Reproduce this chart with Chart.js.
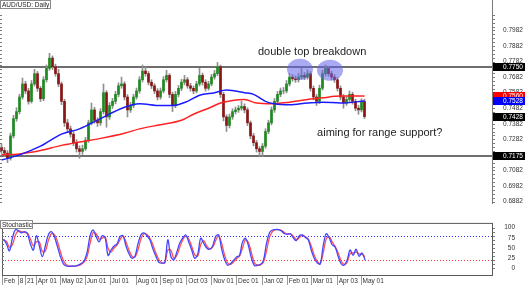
<!DOCTYPE html>
<html>
<head>
<meta charset="utf-8">
<script src="https://cdn.jsdelivr.net/npm/chart.js@4.4.1/dist/chart.umd.min.js"></script>
<style>
  html, body { margin: 0; padding: 0; background: #fff; }
  #wrap { position: relative; width: 525px; height: 285px; overflow: hidden; }
  canvas { position: absolute; left: 0; }
  #price { top: 0; }
  #stoch { top: 219px; }
</style>
</head>
<body>
<div id="wrap">
  <canvas id="price" width="525" height="219"></canvas>
  <canvas id="stoch" width="525" height="66"></canvas>
</div>
<script>
// AUD/USD daily, squeezed to one candle per ~3 sessions
const opens = [
  0.7230,0.7210,0.7193,0.7160,0.7304,0.7415,0.7460,0.7554,0.7638,0.7593,
  0.7526,0.7638,0.7704,0.7610,0.7543,0.7665,0.7738,0.7804,0.7749,0.7704,
  0.7638,0.7526,0.7388,0.7349,0.7315,0.7260,0.7221,0.7204,0.7221,0.7276,
  0.7388,0.7471,0.7404,0.7388,0.7460,0.7582,0.7426,0.7499,0.7526,0.7571,
  0.7626,0.7638,0.7554,0.7471,0.7499,0.7554,0.7593,0.7665,0.7721,0.7704,
  0.7649,0.7626,0.7593,0.7554,0.7593,0.7665,0.7693,0.7571,0.7499,0.7571,
  0.7610,0.7649,0.7665,0.7626,0.7610,0.7593,0.7638,0.7693,0.7649,0.7610,
  0.7638,0.7682,0.7704,0.7749,0.7571,0.7426,0.7371,0.7426,0.7460,0.7471,
  0.7482,0.7493,0.7471,0.7388,0.7304,0.7260,0.7221,0.7204,0.7238,0.7332,
  0.7388,0.7471,0.7526,0.7571,0.7593,0.7593,0.7638,0.7682,0.7671,0.7665,
  0.7682,0.7693,0.7682,0.7704,0.7610,0.7554,0.7526,0.7610,0.7704,0.7738,
  0.7704,0.7682,0.7665,0.7610,0.7554,0.7515,0.7538,0.7571,0.7526,0.7482,
  0.7471,0.7526
];
const highs = [
  0.7252,0.7228,0.7210,0.7322,0.7436,0.7485,0.7572,0.7676,0.7655,0.7610,
  0.7660,0.7732,0.7718,0.7622,0.7685,0.7760,0.7835,0.7818,0.7765,0.7732,
  0.7650,0.7540,0.7410,0.7368,0.7330,0.7280,0.7240,0.7245,0.7295,0.7405,
  0.7515,0.7488,0.7420,0.7480,0.7638,0.7595,0.7518,0.7545,0.7590,0.7645,
  0.7682,0.7652,0.7570,0.7520,0.7572,0.7612,0.7685,0.7760,0.7749,0.7718,
  0.7665,0.7640,0.7608,0.7612,0.7685,0.7726,0.7705,0.7585,0.7590,0.7628,
  0.7668,0.7693,0.7680,0.7642,0.7625,0.7655,0.7738,0.7708,0.7665,0.7655,
  0.7700,0.7725,0.7776,0.7760,0.7585,0.7440,0.7445,0.7478,0.7490,0.7500,
  0.7526,0.7510,0.7485,0.7400,0.7320,0.7275,0.7235,0.7255,0.7350,0.7405,
  0.7490,0.7545,0.7590,0.7612,0.7615,0.7660,0.7705,0.7698,0.7690,0.7705,
  0.7738,0.7712,0.7730,0.7718,0.7625,0.7570,0.7630,0.7725,0.7760,0.7750,
  0.7720,0.7698,0.7680,0.7625,0.7570,0.7555,0.7593,0.7585,0.7540,0.7500,
  0.7543,0.7540
];
const lows = [
  0.7190,0.7172,0.7132,0.7148,0.7290,0.7398,0.7445,0.7540,0.7575,0.7508,
  0.7515,0.7625,0.7590,0.7525,0.7530,0.7650,0.7725,0.7730,0.7688,0.7620,
  0.7505,0.7365,0.7330,0.7295,0.7240,0.7200,0.7160,0.7185,0.7210,0.7262,
  0.7375,0.7385,0.7365,0.7372,0.7445,0.7360,0.7410,0.7480,0.7510,0.7555,
  0.7610,0.7535,0.7426,0.7455,0.7485,0.7540,0.7578,0.7650,0.7688,0.7632,
  0.7608,0.7575,0.7535,0.7540,0.7580,0.7650,0.7550,0.7460,0.7485,0.7555,
  0.7595,0.7632,0.7610,0.7592,0.7575,0.7580,0.7625,0.7630,0.7592,0.7598,
  0.7625,0.7668,0.7690,0.7550,0.7400,0.7332,0.7355,0.7410,0.7445,0.7455,
  0.7468,0.7452,0.7370,0.7285,0.7240,0.7200,0.7172,0.7170,0.7225,0.7318,
  0.7375,0.7455,0.7510,0.7555,0.7575,0.7580,0.7625,0.7655,0.7648,0.7650,
  0.7668,0.7665,0.7668,0.7592,0.7535,0.7499,0.7512,0.7598,0.7690,0.7688,
  0.7665,0.7648,0.7592,0.7535,0.7482,0.7500,0.7522,0.7508,0.7465,0.7443,
  0.7458,0.7415
];
const closes = [
  0.7210,0.7193,0.7160,0.7304,0.7415,0.7460,0.7554,0.7638,0.7593,0.7526,
  0.7638,0.7704,0.7610,0.7543,0.7665,0.7738,0.7804,0.7749,0.7704,0.7638,
  0.7526,0.7388,0.7349,0.7315,0.7260,0.7221,0.7204,0.7221,0.7276,0.7388,
  0.7471,0.7404,0.7388,0.7460,0.7582,0.7426,0.7499,0.7526,0.7571,0.7626,
  0.7638,0.7554,0.7471,0.7499,0.7554,0.7593,0.7665,0.7721,0.7704,0.7649,
  0.7626,0.7593,0.7554,0.7593,0.7665,0.7693,0.7571,0.7499,0.7571,0.7610,
  0.7649,0.7665,0.7626,0.7610,0.7593,0.7638,0.7693,0.7649,0.7610,0.7638,
  0.7682,0.7704,0.7749,0.7571,0.7426,0.7371,0.7426,0.7460,0.7471,0.7482,
  0.7493,0.7471,0.7388,0.7304,0.7260,0.7221,0.7204,0.7238,0.7332,0.7388,
  0.7471,0.7526,0.7571,0.7593,0.7593,0.7638,0.7682,0.7671,0.7665,0.7682,
  0.7693,0.7682,0.7704,0.7610,0.7554,0.7526,0.7610,0.7704,0.7738,0.7704,
  0.7682,0.7665,0.7610,0.7554,0.7515,0.7538,0.7571,0.7526,0.7482,0.7471,
  0.7526,0.7428
];

// moving averages (blue = faster, red = slower), sampled at candle indexes
const blueMaX = [0, 6, 13, 20, 26, 33, 41, 46, 53, 57, 62, 66, 71, 75, 81, 84, 88, 91, 96, 102, 107, 113, 121];
const blueMa  = [0.7149,0.7182,0.7238,0.7315,0.7349,0.7415,0.7488,0.7510,0.7499,0.7499,0.7526,0.7565,
                 0.7582,0.7599,0.7582,0.7571,0.7526,0.7510,0.7504,0.7515,0.7521,0.7515,0.7528];
const redMaX  = [0, 6, 13, 20, 26, 33, 41, 46, 53, 60, 64, 69, 73, 77, 81, 85, 90, 96, 102, 107, 113, 121];
const redMa   = [0.7182,0.7188,0.7210,0.7243,0.7265,0.7288,0.7321,0.7349,0.7376,0.7404,0.7443,
                 0.7482,0.7515,0.7532,0.7538,0.7515,0.7510,0.7521,0.7538,0.7549,0.7560,0.7560];

// stochastic oscillator
const stochMain = [
  72,60,43,75,95,92,87,90,85,60, 45,80,55,29,55,82,90,78,55,30,
  12,6,5,6,6,8,12,19,40,80,      94,78,65,80,75,32,45,55,60,78,
  80,55,36,25,30,60,82,87,80,70, 48,30,15,13,15,70,30,21,40,62,
  75,82,65,45,25,35,74,62,50,47, 55,78,82,48,22,8,12,20,28,32,
  65,74,55,25,7,8,10,20,60,87,   94,95,95,92,85,84,85,75,68,80,
  82,76,70,45,25,14,11,55,85,75, 58,52,30,12,8,20,45,32,47,30,
  38,21
];
const stochSignal = [
  70,66,52,58,82,92,90,88,87,72, 55,65,65,42,42,68,85,83,67,42,
  20,9,6,6,6,7,10,16,30,62,      88,85,72,74,78,50,40,50,57,70,
  79,65,45,30,28,45,72,85,83,74, 58,38,22,14,14,45,45,25,32,52,
  70,79,72,54,34,30,58,68,55,48, 52,68,80,62,33,14,10,16,24,30,
  50,70,63,38,14,8,9,15,42,75,   90,95,95,93,88,84,85,79,71,75,
  81,78,72,55,33,18,12,38,72,78, 65,54,38,19,10,15,36,38,40,36,
  35,28
];

const priceTicks = [0.7982,0.7882,0.7782,0.7682,0.7582,0.7482,0.7382,0.7282,0.7182,0.7082,0.6982,0.6882];
const stochTicks = [100, 75, 50, 25, 0];
const dateTickPos  = [-0.5, 4.8, 7.2, 10.8, 18.8, 27.2, 35.5, 44.2, 52.5, 61.2, 69.5, 77.8, 86.5, 94.8, 102.8, 111.5, 119.5];
const dateTickText = ['Feb', '8', '21', 'Apr 01', 'May 02', 'Jun 01', 'Jul 01', 'Aug 01', 'Sep 01', 'Oct 03',
                      'Nov 01', 'Dec 01', 'Jan 02', 'Feb 01', 'Mar 01', 'Apr 03', 'May 01'];

const rangeTop = 0.7750;
const rangeBottom = 0.7175;
const lastPrice = 0.7428;
const stochLevels = [80, 20];

// annotation anchors (candle index, price)
const topMarks = [{ x: 99.5, y: 0.7732 }, { x: 109.5, y: 0.7726 }];
const notes = [
  { text: 'double top breakdown', x: 85.5, y: 0.7843 },
  { text: 'aiming for range support?', x: 105.2, y: 0.7321 }
];

const FONT = 'Liberation Sans, Arial, sans-serif';
const SMALL = { family: FONT, size: 6.5 };
const X_MIN = -0.5, X_MAX = 163.5;
const idx = closes.map((_, i) => i);

function labelBox(ctx, text, x, y, w, h) {
  ctx.fillStyle = '#fff';
  ctx.fillRect(x, y, w, h);
  ctx.strokeStyle = '#8a8a8a';
  ctx.lineWidth = 1;
  ctx.strokeRect(x + 0.5, y + 0.5, w - 1, h - 1);
  ctx.fillStyle = '#222';
  ctx.font = '6.5px ' + FONT;
  ctx.textBaseline = 'middle';
  ctx.textAlign = 'left';
  ctx.fillText(text, x + 2, y + h / 2 + 0.5);
}

const priceOverlay = {
  id: 'priceOverlay',
  beforeDatasetsDraw(chart) {
    const { ctx, chartArea: a, scales: { y } } = chart;
    ctx.save();
    ctx.strokeStyle = '#6e6e6e';
    ctx.lineWidth = 2;
    [rangeTop, rangeBottom].forEach(v => {
      const py = Math.round(y.getPixelForValue(v));
      ctx.beginPath();
      ctx.moveTo(a.left, py);
      ctx.lineTo(a.right, py);
      ctx.stroke();
    });
    ctx.restore();
  },
  afterDatasetsDraw(chart) {
    const { ctx, scales: { x, y } } = chart;
    ctx.save();
    ctx.fillStyle = 'rgba(100,100,232,0.55)';
    topMarks.forEach(m => {
      ctx.beginPath();
      ctx.ellipse(x.getPixelForValue(m.x), y.getPixelForValue(m.y), 13, 10.5, 0, 0, Math.PI * 2);
      ctx.fill();
    });
    ctx.restore();
  },
  afterDraw(chart) {
    const { ctx, chartArea: a, scales: { x, y } } = chart;
    ctx.save();
    // notes
    ctx.fillStyle = '#1e1e1e';
    ctx.font = '11px ' + FONT;
    ctx.textAlign = 'left';
    ctx.textBaseline = 'middle';
    notes.forEach(n => ctx.fillText(n.text, x.getPixelForValue(n.x), y.getPixelForValue(n.y)));

    // axis border and small ticks
    ctx.strokeStyle = '#7a7a7a';
    ctx.lineWidth = 1;
    ctx.beginPath();
    ctx.moveTo(a.right + 0.5, 0);
    ctx.lineTo(a.right + 0.5, a.bottom);
    for (let v = 0.6882; v < 0.8082; v += 0.0025) {
      const py = Math.round(y.getPixelForValue(v)) + 0.5;
      ctx.moveTo(a.right + 1, py); ctx.lineTo(a.right + 3, py);
      ctx.moveTo(a.left, py); ctx.lineTo(a.left + 2, py);
    }
    ctx.stroke();

    // price boxes on the axis
    const boxes = [
      { v: rangeTop, bg: '#000' },
      { v: rangeBottom, bg: '#000' },
      { v: redMa[redMa.length - 1], bg: '#ff0000' },
      { v: blueMa[blueMa.length - 1], bg: '#0000ff' },
      { v: lastPrice, bg: '#000' }
    ];
    ctx.font = '6.5px ' + FONT;
    boxes.forEach(b => {
      const py = y.getPixelForValue(b.v);
      ctx.fillStyle = b.bg;
      ctx.fillRect(a.right + 1, Math.round(py - 4), 525 - a.right, 8);
      ctx.fillStyle = '#fff';
      ctx.fillText(b.v.toFixed(4), a.right + 11, py + 0.5);
    });

    labelBox(ctx, 'AUD/USD: Daily', 0, 0, 51, 9);
    ctx.restore();
  }
};

new Chart(document.getElementById('price'), {
  type: 'bar',
  data: {
    datasets: [
      {
        type: 'line', data: blueMaX.map((v, i) => ({ x: v, y: blueMa[i] })),
        borderColor: '#1a1aff', borderWidth: 1.5, pointRadius: 0, cubicInterpolationMode: 'monotone', order: 0
      },
      {
        type: 'line', data: redMaX.map((v, i) => ({ x: v, y: redMa[i] })),
        borderColor: '#ff2222', borderWidth: 1.5, pointRadius: 0, cubicInterpolationMode: 'monotone', order: 1
      },
      {
        data: idx.map(i => ({ x: i, y: [opens[i], closes[i]] })),
        backgroundColor: idx.map(i => closes[i] >= opens[i] ? '#1f8a1f' : '#8a1515'),
        barThickness: 2, grouped: false, order: 2
      },
      {
        data: idx.map(i => ({ x: i, y: [lows[i], highs[i]] })),
        backgroundColor: '#8f8f8f', barThickness: 1, grouped: false, order: 3
      }
    ]
  },
  options: {
    responsive: false,
    animation: false,
    layout: { padding: 0 },
    plugins: { legend: { display: false }, tooltip: { enabled: false } },
    scales: {
      x: { type: 'linear', min: X_MIN, max: X_MAX, offset: false, display: false },
      y: {
        position: 'right', min: 0.68653, max: 0.8082,
        afterFit(s) { s.width = 33; },
        afterBuildTicks(s) { s.ticks = priceTicks.map(v => ({ value: v })); },
        grid: { display: false, drawTicks: false },
        border: { display: false },
        ticks: { autoSkip: false, padding: 11, color: '#333', font: SMALL, callback: v => v.toFixed(4) }
      }
    }
  },
  plugins: [priceOverlay]
});

const stochOverlay = {
  id: 'stochOverlay',
  beforeDatasetsDraw(chart) {
    const { ctx, chartArea: a, scales: { y } } = chart;
    ctx.save();
    ctx.lineWidth = 1;
    ctx.setLineDash([1, 2]);
    ['#3030ff', '#ff3030'].forEach((c, k) => {
      const py = Math.round(y.getPixelForValue(stochLevels[k])) + 0.5;
      ctx.strokeStyle = c;
      ctx.beginPath();
      ctx.moveTo(a.left, py);
      ctx.lineTo(a.right, py);
      ctx.stroke();
    });
    ctx.restore();
  },
  afterDraw(chart) {
    const { ctx, chartArea: a, scales: { x, y } } = chart;
    ctx.save();
    ctx.strokeStyle = '#5a5a5a';
    ctx.lineWidth = 1;
    ctx.strokeRect(a.left + 0.5, a.top + 0.5, a.right - a.left, a.bottom - a.top);
    ctx.strokeStyle = '#7a7a7a';
    ctx.beginPath();
    for (let v = 0; v <= 100; v += 10) {
      const py = Math.round(y.getPixelForValue(v)) + 0.5;
      ctx.moveTo(a.right + 1, py); ctx.lineTo(a.right + 3, py);
      ctx.moveTo(a.left, py); ctx.lineTo(a.left + 2, py);
    }
    ctx.stroke();
    // date separators
    ctx.strokeStyle = '#9a9a9a';
    ctx.beginPath();
    dateTickPos.forEach(v => {
      const px = Math.round(x.getPixelForValue(v)) + 0.5;
      ctx.moveTo(px, a.bottom + 1);
      ctx.lineTo(px, chart.height);
    });
    ctx.stroke();
    labelBox(ctx, 'Stochastic', 0, 1, 33, 9);
    ctx.restore();
  }
};

new Chart(document.getElementById('stoch'), {
  type: 'line',
  data: {
    datasets: [
      { data: idx.map(i => ({ x: i, y: stochMain[i] })), borderColor: '#4646ff', borderWidth: 1.3, pointRadius: 0, tension: 0.35 },
      { data: idx.map(i => ({ x: i, y: stochSignal[i] })), borderColor: '#ff5050', borderWidth: 1.3, pointRadius: 0, tension: 0.35 }
    ]
  },
  options: {
    responsive: false,
    animation: false,
    layout: { padding: { right: 10 } },
    plugins: { legend: { display: false }, tooltip: { enabled: false } },
    scales: {
      x: {
        type: 'linear', min: X_MIN, max: X_MAX, offset: false,
        afterFit(s) { s.height = 10; },
        afterBuildTicks(s) { s.ticks = dateTickPos.map(v => ({ value: v })); },
        grid: { display: false, drawTicks: false },
        border: { display: false },
        ticks: {
          autoSkip: false, maxRotation: 0, align: 'start', labelOffset: 2, padding: 2,
          color: '#333', font: SMALL, callback: (v, i) => dateTickText[i]
        }
      },
      y: {
        position: 'right', min: -15.9, max: 111.4,
        afterFit(s) { s.width = 23; },
        afterBuildTicks(s) { s.ticks = stochTicks.map(v => ({ value: v })); },
        grid: { display: false, drawTicks: false },
        border: { display: false },
        ticks: { autoSkip: false, crossAlign: 'far', padding: 0, color: '#333', font: SMALL }
      }
    }
  },
  plugins: [stochOverlay]
});
</script>
</body>
</html>
